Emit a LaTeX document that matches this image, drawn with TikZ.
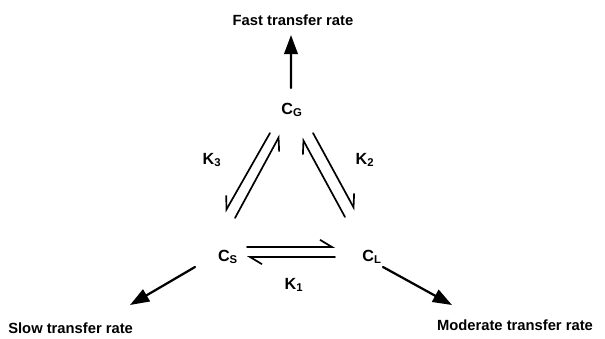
\documentclass[tikz,border=0pt]{standalone}
\usepackage{fontspec}
\setmainfont{Liberation Sans}
\usetikzlibrary{arrows.meta}

\tikzset{
  conc/.style={font=\fontsize{11.5}{13}\selectfont\bfseries,inner sep=1pt},
  ratelabel/.style={font=\fontsize{10.5}{12}\selectfont\bfseries,inner sep=0pt},
  harpL/.style={line width=1.2pt,-{Straight Barb[harpoon,length=0.3cm,width=0.36cm]}},
  harpR/.style={line width=1.2pt,-{Straight Barb[harpoon,swap,length=0.3cm,width=0.36cm]}},
  flow/.style={line width=1.6pt,-{Triangle[length=0.48cm,width=0.34cm]}}
}

\begin{document}
\begin{tikzpicture}[x=1cm,y=1cm,line cap=round,line join=round]
        \useasboundingbox (0,0) rectangle (15.125,8.45);

        % concentrations
        \node[conc] (CG) at (7.3,5.7) {C\textsubscript{G}};
        \node[conc] (CS) at (5.7,2.025) {C\textsubscript{S}};
        \node[conc] (CL) at (9.3,2.025) {C\textsubscript{L}};

        \node[conc] (K3) at (5.3,4.45) {K\textsubscript{3}};
        \node[conc] (K2) at (9.125,4.45) {K\textsubscript{2}};
        \node[conc] (K1) at (7.35,1.325) {K\textsubscript{1}};

        % rates
        \node[ratelabel] (fast) at (7.325,7.95) {Fast transfer rate};
        \node[ratelabel,anchor=west] (slow) at (0.2,0.25) {Slow transfer rate};
        \node[ratelabel] (moderate) at (12.875,0.325) {Moderate transfer rate};

        \coordinate (fasttip) at (7.275,7.575);
        \coordinate (slowtip) at (3.25,0.825);
        \coordinate (modtip) at (11.3,0.825);

        % exchange between phases
        \draw[harpR] ([shift={(-0.55,-0.575)}]CG.center) -- ([shift={(-0.075,1.125)}]CS.center);
        \draw[harpR] ([shift={(0.175,0.975)}]CS.center) -- ([shift={(-0.3,-0.625)}]CG.center);
        \draw[harpL] ([shift={(0.525,-0.575)}]CG.center) -- ([shift={(-0.425,1.175)}]CL.center);
        \draw[harpL] ([shift={(-0.675,1.0)}]CL.center) -- ([shift={(0.25,-0.7)}]CG.center);
        \draw[harpL] ([shift={(0.475,0.25)}]CS.center) -- ([shift={(-0.925,0.25)}]CL.center);
        \draw[harpL] ([shift={(-0.925,0)}]CL.center) -- ([shift={(0.475,0)}]CS.center);

        % transfer out
        \draw[flow] ([shift={(-0.025,0.55)}]CG.center) -- (fasttip);
        \draw[flow] ([shift={(-0.825,-0.25)}]CS.center) -- (slowtip);
        \draw[flow] ([shift={(0.275,-0.25)}]CL.center) -- (modtip);
    \end{tikzpicture}
\end{document}
